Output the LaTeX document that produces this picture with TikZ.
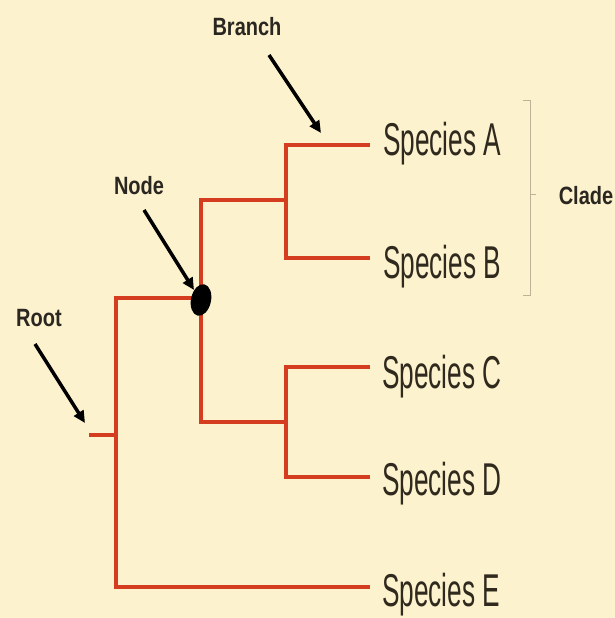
\documentclass[tikz,border=0pt]{standalone}
\usepackage{fontspec}
\setmainfont{Liberation Sans}
\usetikzlibrary{arrows.meta,shapes.geometric}
\definecolor{bg}{HTML}{FDF2CE}
\definecolor{tree}{HTML}{D43D1F}
\definecolor{spc}{HTML}{2F291E}
\definecolor{lbl}{HTML}{2A2620}
\definecolor{brk}{HTML}{BDB398}
\begin{document}
\begin{tikzpicture}[x=1pt,y=-1pt,
  branchline/.style={draw=tree,line width=4.2pt,line cap=butt,line join=miter},
  species/.style={anchor=base west,inner sep=0pt,text=spc,font=\fontsize{46}{46}\selectfont},
  callout/.style={inner sep=0pt,text=lbl,font=\bfseries\fontsize{25}{25}\selectfont},
  pointer/.style={draw=black,line width=3.5pt,-{Triangle[length=12pt,width=11pt]}}]
\fill[bg] (0,0) rectangle (615,618);
\useasboundingbox (0,0) rectangle (615,618);
% tree coordinates
\coordinate (stub) at (89,435);
\coordinate (rmid) at (116,435);
\coordinate (rtop) at (116,298);
\coordinate (rbot) at (116,587);
\coordinate (n1) at (201,298);
\coordinate (n1t) at (201,200);
\coordinate (n1b) at (201,422);
\coordinate (ab) at (286,200);
\coordinate (abt) at (286,145);
\coordinate (abb) at (286,258);
\coordinate (cd) at (286,422);
\coordinate (cdt) at (286,367);
\coordinate (cdb) at (286,477);
\coordinate (ta) at (370,145);
\coordinate (tb) at (370,258);
\coordinate (tc) at (370,367);
\coordinate (td) at (370,477);
\coordinate (te) at (370,587);
% branches
\draw[branchline] (stub) -- (rmid);
\draw[branchline] (n1) -- (rtop) -- (rbot) -- (te);
\draw[branchline] (ab) -- (n1t) -- (n1b) -- (cd);
\draw[branchline] (ta) -- (abt) -- (abb) -- (tb);
\draw[branchline] (tc) -- (cdt) -- (cdb) -- (td);
% node dot
\node[ellipse,fill=black,minimum width=20pt,minimum height=32pt,inner sep=0pt,rotate=-12] (nodedot) at (201,300) {};
% species labels
\node[species] (spA) at (383,155) {\scalebox{0.57}[1]{Species A}};
\node[species] (spB) at (383,278) {\scalebox{0.57}[1]{Species B}};
\node[species] (spC) at (382,388) {\scalebox{0.57}[1]{Species C}};
\node[species] (spD) at (382,495) {\scalebox{0.57}[1]{Species D}};
\node[species] (spE) at (382,606) {\scalebox{0.57}[1]{Species E}};
% callouts
\node[callout] (branchlbl) at (247,27) {\scalebox{0.8}[1]{Branch}};
\node[callout] (nodelbl) at (139,186) {\scalebox{0.8}[1]{Node}};
\node[callout] (rootlbl) at (39,318) {\scalebox{0.8}[1]{Root}};
\node[callout] (cladelbl) at (586,196) {\scalebox{0.8}[1]{Clade}};
% pointer arrows
\coordinate (bfrom) at (269,55);
\coordinate (bto) at (321,133);
\coordinate (nfrom) at (144,210);
\coordinate (nto) at (194,290);
\coordinate (rfrom) at (35,344);
\coordinate (rto) at (85,423);
\draw[pointer] (bfrom) -- (bto);
\draw[pointer] (nfrom) -- (nto);
\draw[pointer] (rfrom) -- (rto);
% clade bracket
\coordinate (ct1) at (523,100);
\coordinate (ct2) at (530,100);
\coordinate (cb2) at (530,295);
\coordinate (cb1) at (523,295);
\coordinate (cm1) at (530,194);
\coordinate (cm2) at (536,194);
\draw[brk,line width=1pt] (ct1) -- (ct2) -- (cb2) -- (cb1);
\draw[brk,line width=1pt] (cm1) -- (cm2);
\end{tikzpicture}
\end{document}
